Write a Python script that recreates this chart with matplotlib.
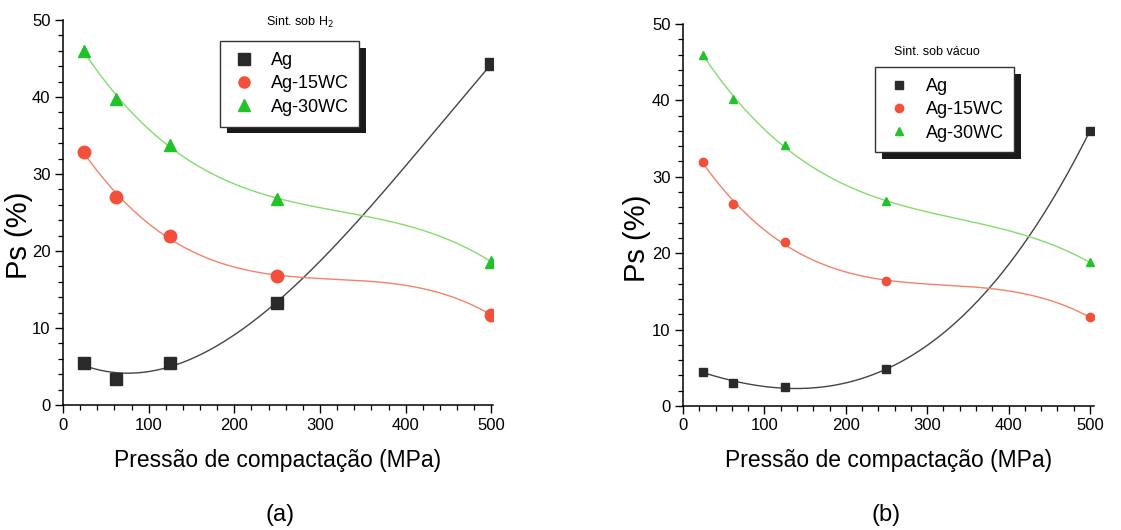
import numpy as np
import matplotlib
matplotlib.use("Agg")
import matplotlib.pyplot as plt
from matplotlib.ticker import MultipleLocator
import matplotlib.patheffects as pe

plt.rcParams['font.family'] = ['Liberation Sans Narrow', 'Liberation Sans', 'DejaVu Sans']

pressure = [25, 62, 125, 250, 500]

# (a) sintering under H2
ag_h2 = [5.5, 3.4, 5.5, 13.3, 44.3]
ag15_h2 = [32.9, 27.0, 21.9, 16.8, 11.7]
ag30_h2 = [46.0, 39.8, 33.8, 26.8, 18.6]

# (b) sintering under vacuum
ag_vac = [4.5, 3.0, 2.5, 4.8, 36.0]
ag15_vac = [31.9, 26.4, 21.4, 16.4, 11.6]
ag30_vac = [46.0, 40.2, 34.1, 26.8, 18.8]

series_names = ["Ag", "Ag-15WC", "Ag-30WC"]
panel_labels = ["(a)", "(b)"]
notes = ["Sint. sob H$_2$", "Sint. sob vácuo"]
x_title = "Pressão de compactação (MPa)"
y_title = "Ps (%)"


def cubic_fit(x, y, n=300):
    """Third-order polynomial fit of the points, evaluated on a fine grid."""
    coef = np.polyfit(x, y, 3)
    xs = np.linspace(min(x), max(x), n)
    return xs, np.polyval(coef, xs)


fig = plt.figure(figsize=(11.21, 5.30), dpi=100)

marker_colors = ["#2a2a2a", "#f2503a", "#22c22a"]
line_colors = ["#444444", "#f3826c", "#84dc6c"]
markers = ["s", "o", "^"]

panels = [
    dict(rect=[0.0562, 0.2358, 0.3836, 0.7264], xmax=502,
         data=[ag_h2, ag15_h2, ag30_h2], ms=9, leg_ms=8,
         note_xy=(0.55, 0.995), leg_xy=(0.365, 0.945),
         ylab_xy=(-0.07, 0.44), label_x=0.25),
    dict(rect=[0.6093, 0.2340, 0.3666, 0.7208], xmax=505,
         data=[ag_vac, ag15_vac, ag30_vac], ms=6, leg_ms=6,
         note_xy=(0.618, 0.927), leg_xy=(0.467, 0.887),
         ylab_xy=(-0.078, 0.44), label_x=0.79),
]

for k, p in enumerate(panels):
    ax = fig.add_axes(p["rect"])
    for j, ys in enumerate(p["data"]):
        sx, sy = cubic_fit(pressure, ys)
        ax.plot(sx, sy, color=line_colors[j], lw=1.0, zorder=2)
        ax.plot(pressure, ys, linestyle="none", marker=markers[j],
                color=marker_colors[j], ms=p["ms"], label=series_names[j],
                zorder=3)
    ax.set_xlim(0, p["xmax"])
    ax.set_ylim(0, 50)
    ax.spines["top"].set_visible(False)
    ax.spines["right"].set_visible(False)
    for s in ("left", "bottom"):
        ax.spines[s].set_linewidth(1.1)
    ax.xaxis.set_major_locator(MultipleLocator(100))
    ax.xaxis.set_minor_locator(MultipleLocator(20))
    ax.yaxis.set_major_locator(MultipleLocator(10))
    ax.yaxis.set_minor_locator(MultipleLocator(2))
    ax.tick_params(which="major", direction="out", length=6, width=1.0,
                   labelsize=12, pad=3)
    ax.tick_params(which="minor", direction="out", length=3.5, width=0.9)
    ax.set_ylabel(y_title, fontsize=21)
    ax.yaxis.set_label_coords(*p["ylab_xy"])
    ax.text(0.5, -0.143, x_title, transform=ax.transAxes, ha="center",
            va="center", fontsize=16.5)

    leg = ax.legend(loc="upper left", bbox_to_anchor=p["leg_xy"],
                    frameon=True, fancybox=False, shadow=False, framealpha=1,
                    fontsize=13, handletextpad=0.7, borderpad=0.6,
                    labelspacing=0.35, handlelength=1.5, borderaxespad=0,
                    markerscale=p["leg_ms"] / p["ms"])
    frame = leg.get_frame()
    frame.set_facecolor("white")
    frame.set_edgecolor("#333333")
    frame.set_linewidth(1.0)
    frame.set_path_effects([pe.SimplePatchShadow(offset=(5, -5),
                                                 shadow_rgbFace="#1a1a1a",
                                                 alpha=1.0), pe.Normal()])
    ax.text(p["note_xy"][0], p["note_xy"][1], notes[k],
            transform=ax.transAxes, ha="center", va="center", fontsize=9)

    fig.text(p["label_x"], 0.028, panel_labels[k], ha="center", va="center",
             fontsize=17, family=["Liberation Sans", "DejaVu Sans"])

fig.savefig("out.png", dpi=100, facecolor="white")
